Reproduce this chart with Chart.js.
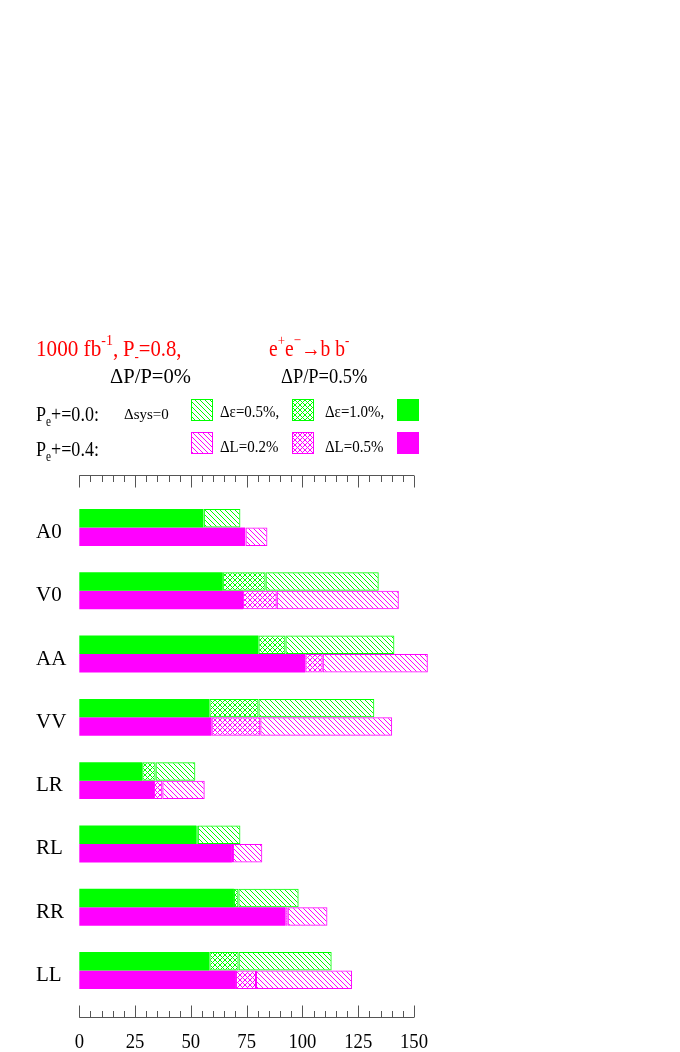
<!DOCTYPE html>
<html>
<head>
<meta charset="utf-8">
<script src="https://cdn.jsdelivr.net/npm/chart.js@4.4.1/dist/chart.umd.min.js"></script>
<style>
    html, body { margin: 0; padding: 0; background: #fff; }
    #wrap { position: relative; width: 680px; height: 1052px; font-family: 'Liberation Serif', 'Times New Roman', serif; }
    #chart { position: absolute; left: 0; top: 0; }
    .t { position: absolute; white-space: nowrap; line-height: 1; transform-origin: 0 0; }
    .red { color: #ff0000; }
    .sup { position: relative; font-size: 0.66em; top: -0.7em; }
    .sub { position: relative; font-size: 0.62em; top: 0.35em; }
</style>
</head>
<body>
<div id="wrap">
    <canvas id="chart" width="680" height="1052"></canvas>

    <div class="t red" style="left:36px; top:337px; font-size:23px; transform:scaleX(0.92);">1000 fb<span class="sup">-1</span>,</div>
    <div class="t red" style="left:123px; top:337px; font-size:23px; transform:scaleX(0.9);">P<span class="sub">-</span>=0.8,</div>
    <div class="t red" style="left:269px; top:337px; font-size:23px; transform:scaleX(0.85);">e<span class="sup">+</span>e<span class="sup">&minus;</span>&rarr;b b<span class="sup">-</span></div>

    <div class="t" style="left:110px; top:366px; font-size:21px; transform:scaleX(0.98);">&Delta;P/P=0%</div>
    <div class="t" style="left:281px; top:366px; font-size:21px; transform:scaleX(0.88);">&Delta;P/P=0.5%</div>

    <div class="t" style="left:36px; top:403px; font-size:22px; transform:scaleX(0.82);">P<span class="sub">e</span>+=0.0:</div>
    <div class="t" style="left:36px; top:438px; font-size:22px; transform:scaleX(0.82);">P<span class="sub">e</span>+=0.4:</div>
    <div class="t" style="left:124px; top:407px; font-size:15px;">&Delta;sys=0</div>

    <div class="t" style="left:220px; top:403px; font-size:17px; transform:scaleX(0.88);">&Delta;&epsilon;=0.5%,</div>
    <div class="t" style="left:325px; top:403px; font-size:17px; transform:scaleX(0.88);">&Delta;&epsilon;=1.0%,</div>
    <div class="t" style="left:220px; top:438px; font-size:17px; transform:scaleX(0.88);">&Delta;L=0.2%</div>
    <div class="t" style="left:325px; top:438px; font-size:17px; transform:scaleX(0.88);">&Delta;L=0.5%</div>
</div>

<script>
// ============================================================================
// DATA (bar ends, in the axis units)
// ============================================================================
const categories = ['A0', 'V0', 'AA', 'VV', 'LR', 'RL', 'RR', 'LL'];

// Pe+ = 0.0 (green)
const greenSolid = [55.6, 64.3, 80.3, 58.3, 28.2, 52.4, 69.3, 58.3];
const greenCross = [55.8, 83.5, 92.4, 80.3, 34.2, 53.1, 71.3, 71.4];
const greenHatch = [72.2, 134.2, 141.2, 132.2, 52.0, 72.2, 98.3, 113.1];

// Pe+ = 0.4 (magenta)
const magentaSolid = [74.3, 73.4, 101.3, 59.3, 33.5, 68.4, 92.3, 70.2];
const magentaCross = [74.5, 88.5, 109.1, 81.1, 37.2, 68.9, 93.4, 79.2];
const magentaHatch = [84.3, 143.2, 156.2, 140.2, 56.2, 82.0, 111.2, 122.2];

const xTickLabels = [0, 25, 50, 75, 100, 125, 150];
const xMinorStep = 5;

const GREEN = '#00ff00';
const MAGENTA = '#ff00ff';

// ============================================================================
// PATTERNS
// ============================================================================

/**
 * Diagonal hatch "\\\" or cross hatch tile
 */
function makePattern(color, cross, size, width) {
    const c = document.createElement('canvas');
    c.width = size;
    c.height = size;
    const g = c.getContext('2d');
    g.strokeStyle = color;
    g.lineWidth = width;
    g.beginPath();
    g.moveTo(-1, -1); g.lineTo(size + 1, size + 1);
    g.moveTo(-1, size - 1); g.lineTo(1, size + 1);
    g.moveTo(size - 1, -1); g.lineTo(size + 1, 1);
    if (cross) {
        g.moveTo(-1, size + 1); g.lineTo(size + 1, -1);
        g.moveTo(-1, 1); g.lineTo(1, -1);
        g.moveTo(size - 1, size + 1); g.lineTo(size + 1, size - 1);
    }
    g.stroke();
    return g.createPattern(c, 'repeat');
}

const greenHatchFill = makePattern(GREEN, false, 5, 1);
const greenCrossFill = makePattern(GREEN, true, 5, 1);
const magentaHatchFill = makePattern(MAGENTA, false, 5, 1);
const magentaCrossFill = makePattern(MAGENTA, true, 5, 1);

// stacked pieces = differences between successive bar ends
function piece(ends, starts) {
    return ends.map((v, i) => v - (starts ? starts[i] : 0));
}

function segment(data, fill, color, stack, solid) {
    return {
        data: data,
        stack: stack,
        backgroundColor: fill,
        borderColor: color,
        borderWidth: solid ? 0 : 1,
        borderSkipped: false,
        clip: false
    };
}

// ============================================================================
// AXES + LEGEND SWATCHES PLUGIN
// ============================================================================
const axesPlugin = {
    id: 'axesPlugin',
    afterDraw(chart) {
        const ctx = chart.ctx;
        const x = chart.scales.x;
        const topY = 475.5;
        const botY = 1017.5;
        const x0 = x.getPixelForValue(0);
        const x1 = x.getPixelForValue(150);

        ctx.save();
        ctx.strokeStyle = '#555';
        ctx.lineWidth = 1;
        ctx.beginPath();
        ctx.moveTo(x0, topY); ctx.lineTo(x1, topY);
        ctx.moveTo(x0, botY); ctx.lineTo(x1, botY);
        for (let v = 0; v <= 150; v += xMinorStep) {
            const px = Math.round(x.getPixelForValue(v)) + 0.5;
            const len = xTickLabels.includes(v) ? 12 : 6.5;
            ctx.moveTo(px, topY); ctx.lineTo(px, topY + len);
            ctx.moveTo(px, botY); ctx.lineTo(px, botY - len);
        }
        ctx.stroke();

        // bottom tick labels, slightly condensed like the original
        ctx.fillStyle = '#000';
        ctx.font = "22px 'Liberation Serif'";
        ctx.textAlign = 'center';
        ctx.textBaseline = 'alphabetic';
        xTickLabels.forEach(v => {
            ctx.save();
            ctx.translate(x.getPixelForValue(v), 1048);
            ctx.scale(0.85, 1);
            ctx.fillText(String(v), 0, 0);
            ctx.restore();
        });

        // legend swatches
        const boxes = [
            [191, 399, greenHatchFill, GREEN],
            [292, 399, greenCrossFill, GREEN],
            [397, 399, GREEN, GREEN],
            [191, 432, magentaHatchFill, MAGENTA],
            [292, 432, magentaCrossFill, MAGENTA],
            [397, 432, MAGENTA, MAGENTA]
        ];
        boxes.forEach(([bx, by, fill, color]) => {
            ctx.fillStyle = fill;
            ctx.fillRect(bx, by, 22, 22);
            ctx.strokeStyle = color;
            ctx.strokeRect(bx + 0.5, by + 0.5, 21, 21);
        });
        ctx.restore();
    }
};

// ============================================================================
// CHART
// ============================================================================
new Chart(document.getElementById('chart'), {
    type: 'bar',
    data: {
        labels: categories,
        datasets: [
            segment(piece(greenSolid), GREEN, GREEN, 'pe00', true),
            segment(piece(greenCross, greenSolid), greenCrossFill, GREEN, 'pe00', false),
            segment(piece(greenHatch, greenCross), greenHatchFill, GREEN, 'pe00', false),
            segment(piece(magentaSolid), MAGENTA, MAGENTA, 'pe04', true),
            segment(piece(magentaCross, magentaSolid), magentaCrossFill, MAGENTA, 'pe04', false),
            segment(piece(magentaHatch, magentaCross), magentaHatchFill, MAGENTA, 'pe04', false)
        ]
    },
    options: {
        indexAxis: 'y',
        responsive: false,
        animation: false,
        categoryPercentage: 0.584,
        barPercentage: 1.0,
        layout: {
            padding: { top: 495.9, bottom: 49.9, left: 36, right: 266 }
        },
        plugins: {
            legend: { display: false },
            tooltip: { enabled: false }
        },
        scales: {
            x: {
                stacked: true,
                display: false,
                min: 0,
                max: 150
            },
            y: {
                stacked: true,
                grid: { display: false },
                border: { display: false },
                afterFit: scale => { scale.width = 43.3; },
                ticks: {
                    color: '#000',
                    font: { family: 'Liberation Serif', size: 21 },
                    crossAlign: 'far',
                    padding: 0,
                    labelOffset: 5
                }
            }
        }
    },
    plugins: [axesPlugin]
});
</script>
</body>
</html>
